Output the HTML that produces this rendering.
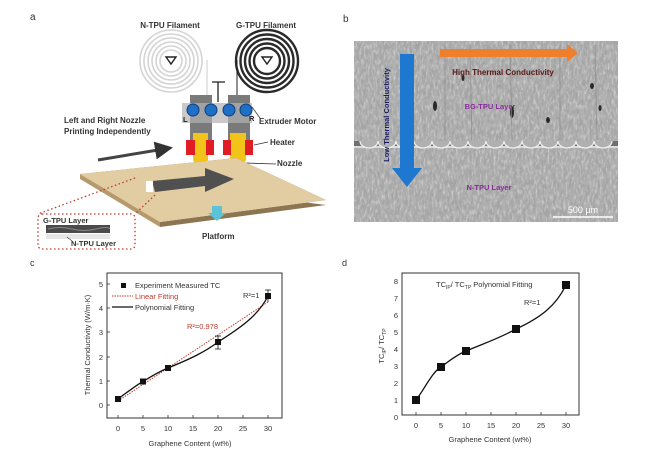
<!DOCTYPE html>
<html><head><meta charset="utf-8"><style>
html,body{margin:0;padding:0;background:#fff;}
svg{display:block;font-family:"Liberation Sans",Arial,sans-serif;}
</style></head><body>
<svg width="648" height="457" viewBox="0 0 648 457" xmlns="http://www.w3.org/2000/svg">
<defs>
<filter id="sem" x="0" y="0" width="100%" height="100%">
<feTurbulence type="fractalNoise" baseFrequency="0.3 0.1" numOctaves="3" seed="4"/>
<feColorMatrix type="matrix" values="0 0 0 0 0.5  0 0 0 0 0.5  0 0 0 0 0.5  1.4 0 0 0 -0.45"/>
</filter>
<filter id="sem2" x="0" y="0" width="100%" height="100%">
<feTurbulence type="fractalNoise" baseFrequency="0.5 0.2" numOctaves="2" seed="9"/>
<feColorMatrix type="matrix" values="0 0 0 0 0.9  0 0 0 0 0.9  0 0 0 0 0.9  1.2 0 0 0 -0.55"/>
</filter>
<marker id="ah" markerWidth="6" markerHeight="6" refX="5" refY="3" orient="auto"><path d="M0,0L6,3L0,6z" fill="#333"/></marker>
</defs>
<!-- Panel a -->
<text x="30" y="20" font-size="10" fill="#333">a</text>
<text x="170" y="28" font-size="8" font-weight="bold" text-anchor="middle" fill="#333">N-TPU Filament</text>
<text x="266" y="28" font-size="8" font-weight="bold" text-anchor="middle" fill="#333">G-TPU Filament</text>
<g fill="none" stroke="#d4d4d4" stroke-width="1.6">
<circle cx="171" cy="61" r="31"/><circle cx="171" cy="61" r="27"/><circle cx="171" cy="61" r="23"/><circle cx="171" cy="61" r="19"/><circle cx="171" cy="61" r="15"/><circle cx="171" cy="61" r="11"/>
</g>
<g fill="none" stroke="#2a2a2a" stroke-width="2.4">
<circle cx="267" cy="61" r="31"/><circle cx="267" cy="61" r="26.5"/><circle cx="267" cy="61" r="22"/><circle cx="267" cy="61" r="17.5"/><circle cx="267" cy="61" r="13"/>
</g>
<path d="M166,57 L176,57 L171,64z" fill="none" stroke="#222" stroke-width="1.4"/>
<path d="M262,57 L272,57 L267,64z" fill="none" stroke="#222" stroke-width="1.4"/>
<line x1="237" y1="60" x2="237" y2="170" stroke="#222" stroke-width="1"/>
<line x1="207" y1="60" x2="207" y2="165" stroke="#ccc" stroke-width="1"/>
<path d="M212,82 L225,82 M218,82 L218,102" stroke="#222" stroke-width="1.3"/>
<rect x="182" y="103" width="70" height="20" fill="#c9c9c9"/>
<rect x="190" y="95" width="22" height="45" fill="#7a7a7a"/>
<rect x="228" y="95" width="22" height="45" fill="#7a7a7a"/>
<rect x="182" y="103" width="70" height="20" fill="#c9c9c9" opacity="0.5"/>
<g fill="#1f6fc4" stroke="#0d3f80"><circle cx="193" cy="110" r="6"/><circle cx="211" cy="110" r="6"/><circle cx="229" cy="110" r="6"/><circle cx="246" cy="110" r="6"/></g>
<path d="M193,133 L208,133 L208,160 L202,170 L198,170 L193,160z" fill="#f2c318"/>
<path d="M230,133 L246,133 L246,160 L240,170 L236,170 L230,160z" fill="#f2c318"/>
<rect x="186" y="140" width="9" height="15" fill="#e01c24"/><rect x="206" y="140" width="8" height="15" fill="#e01c24"/>
<rect x="223" y="140" width="8" height="15" fill="#e01c24"/><rect x="245" y="140" width="8" height="15" fill="#e01c24"/>
<text x="183" y="122" font-size="7.5" font-weight="bold" fill="#222">L</text>
<text x="249" y="121" font-size="7.5" font-weight="bold" fill="#222">R</text>
<path d="M252,107 L260,118 M254,145 L268,142 M245,163 L276,164" stroke="#333" stroke-width="0.8"/>
<text x="259" y="124" font-size="8" font-weight="bold" fill="#333">Extruder Motor</text>
<text x="270" y="145" font-size="8" font-weight="bold" fill="#333">Heater</text>
<text x="277" y="166" font-size="8" font-weight="bold" fill="#333">Nozzle</text>
<text x="64" y="123" font-size="8" font-weight="bold" fill="#333">Left and Right Nozzle</text>
<text x="64" y="134" font-size="8" font-weight="bold" fill="#333">Printing Independently</text>
<path d="M98,160 L170,148" stroke="#444" stroke-width="3" marker-end="url(#ah)"/>
<!-- platform -->
<path d="M80,174 L236,158 L326,200 L160,222 L160,227 L326,205z" fill="#8c7550"/>
<path d="M80,174 L236,158 L326,200 L160,222z" fill="#e2cda2"/>
<path d="M80,174 L160,222 L160,227 L80,179z" fill="#b59a6c"/>
<path d="M152,181 L205,176 L205,168 L234,179 L205,192 L205,186 L155,192z" fill="#505050"/>
<rect x="146" y="181" width="7" height="11" fill="#fff"/>
<path d="M212,206 L222,206 L222,213 L226,213 L217,221 L208,213 L212,213z" fill="#5bc3d8"/>
<text x="202" y="239" font-size="8" font-weight="bold" fill="#333">Platform</text>
<g fill="none" stroke="#c0392b" stroke-width="1.3" stroke-dasharray="1.5 2.5">
<rect x="38" y="214" width="97" height="35" rx="4"/>
<path d="M135,178 L38,214 M155,195 L135,214"/>
</g>
<text x="43" y="223" font-size="7.5" font-weight="bold" fill="#333">G-TPU Layer</text>
<rect x="46" y="225" width="64" height="8" fill="#4a4a4a"/>
<path d="M48,229 Q60,226 72,229 T96,229 T110,229" stroke="#888" fill="none" stroke-width="1"/>
<rect x="46" y="234" width="64" height="5" fill="#e6e6e6"/>
<path d="M67,237 L72,241" stroke="#444" stroke-width="0.7"/>
<text x="71" y="246" font-size="7.5" font-weight="bold" fill="#333">N-TPU Layer</text>
<!-- Panel b -->
<text x="343" y="22" font-size="10" fill="#333">b</text>
<rect x="354" y="41" width="264" height="181" fill="#a3a3a3"/>
<rect x="354" y="41" width="264" height="181" filter="url(#sem)"/>
<rect x="354" y="41" width="264" height="181" filter="url(#sem2)"/>
<rect x="354" y="141" width="264" height="7" fill="#6f6f6f"/>
<rect x="354" y="146" width="264" height="2" fill="#dcdcdc"/>
<g fill="#b0b0b0" stroke="#eeeeee" stroke-width="1.3">
<path d="M360,141 a9,7 0 0 0 18,0 a9,7 0 0 0 18,0 a9,7 0 0 0 18,0 a9,7 0 0 0 18,0 a9,7 0 0 0 18,0 a9,7 0 0 0 18,0 a9,7 0 0 0 18,0 a9,7 0 0 0 18,0 a9,7 0 0 0 18,0 a9,7 0 0 0 18,0 a9,7 0 0 0 18,0 a9,7 0 0 0 18,0 a9,7 0 0 0 18,0 a9,7 0 0 0 18,0"/>
</g>
<g fill="#2a2a2a">
<ellipse cx="435" cy="106" rx="2" ry="5"/><ellipse cx="512" cy="112" rx="2" ry="6"/><ellipse cx="592" cy="86" rx="2" ry="3"/><ellipse cx="600" cy="108" rx="1.5" ry="3"/><ellipse cx="463" cy="78" rx="1.5" ry="3"/><ellipse cx="548" cy="120" rx="2" ry="3"/>
</g>
<g stroke="#8a8a8a" stroke-width="1" opacity="0.7">
<line x1="445" y1="45" x2="445" y2="140"/><line x1="470" y1="45" x2="472" y2="140"/><line x1="510" y1="45" x2="512" y2="140"/><line x1="560" y1="45" x2="560" y2="140"/><line x1="595" y1="45" x2="597" y2="140"/>
</g>
<path d="M400,54 L414,54 L414,168 L422,168 L407,187 L392,168 L400,168z" fill="#1f78d0"/>
<path d="M440,49 L567,49 L567,44 L578,53 L567,62 L567,57 L440,57z" fill="#f07f2c"/>
<text x="503" y="75" font-size="8" font-weight="bold" text-anchor="middle" fill="#5a1a1a">High Thermal Conductivity</text>
<text x="490" y="109" font-size="7.5" font-weight="bold" text-anchor="middle" fill="#8a2a9a">BG-TPU Layer</text>
<text x="489" y="190" font-size="7.5" font-weight="bold" text-anchor="middle" fill="#8a2a9a">N-TPU Layer</text>
<text transform="translate(389,115) rotate(-90)" font-size="7.5" font-weight="bold" text-anchor="middle" fill="#1a1a60">Low Thermal Conductivity</text>
<text x="583" y="213" font-size="9" text-anchor="middle" fill="#fff">500 µm</text>
<line x1="553" y1="217" x2="613" y2="217" stroke="#fff" stroke-width="1.5"/>
<!-- Panel c -->
<text x="30" y="266" font-size="9" fill="#333">c</text>
<rect x="107" y="273" width="175" height="145" fill="none" stroke="#333" stroke-width="1"/>
<g stroke="#333" stroke-width="0.8">
<line x1="118" y1="418" x2="118" y2="415"/><line x1="143" y1="418" x2="143" y2="415"/><line x1="168" y1="418" x2="168" y2="415"/><line x1="193" y1="418" x2="193" y2="415"/><line x1="218" y1="418" x2="218" y2="415"/><line x1="243" y1="418" x2="243" y2="415"/><line x1="268" y1="418" x2="268" y2="415"/>
<line x1="107" y1="405" x2="110" y2="405"/><line x1="107" y1="381" x2="110" y2="381"/><line x1="107" y1="357" x2="110" y2="357"/><line x1="107" y1="332" x2="110" y2="332"/><line x1="107" y1="308" x2="110" y2="308"/><line x1="107" y1="284" x2="110" y2="284"/>
</g>
<g font-size="7.5" fill="#333" text-anchor="middle">
<text x="118" y="431">0</text><text x="143" y="431">5</text><text x="168" y="431">10</text><text x="193" y="431">15</text><text x="218" y="431">20</text><text x="243" y="431">25</text><text x="268" y="431">30</text>
<text x="101" y="408">0</text><text x="101" y="384">1</text><text x="101" y="360">2</text><text x="101" y="335">3</text><text x="101" y="311">4</text><text x="101" y="287">5</text>
</g>
<text x="190" y="446" font-size="7.5" text-anchor="middle" fill="#333">Graphene Content (wt%)</text>
<text transform="translate(90,345) rotate(-90)" font-size="7.5" text-anchor="middle" fill="#333">Thermal Conductivity (W/m·K)</text>
<path d="M118,401 L268,302" stroke="#c0392b" stroke-width="1" stroke-dasharray="1.5 1.2" fill="none"/>
<path d="M118,399 C130,390 140,383 143,381.5 C152,376 160,371 168,368 C190,359 205,352 218,342 C240,328 258,316 268,296" stroke="#111" stroke-width="1.3" fill="none"/>
<g fill="#111"><rect x="115" y="396" width="6" height="6"/><rect x="140" y="378.5" width="6" height="6"/><rect x="165" y="365" width="6" height="6"/><rect x="215" y="339" width="6" height="6"/><rect x="265" y="293" width="6" height="6"/></g>
<path d="M218,336 L218,349 M215,336 L221,336 M215,349 L221,349 M268,290 L268,302 M265,290 L271,290" stroke="#111" stroke-width="0.8"/>
<rect x="121" y="283" width="5" height="5" fill="#111"/>
<text x="135" y="288" font-size="7.5" fill="#333">Experiment Measured TC</text>
<line x1="112" y1="296" x2="133" y2="296" stroke="#c0392b" stroke-dasharray="1.5 1" stroke-width="1"/>
<text x="135" y="299" font-size="7.5" fill="#c0392b">Linear Fitting</text>
<line x1="112" y1="307" x2="133" y2="307" stroke="#111" stroke-width="1.3"/>
<text x="135" y="310" font-size="7.5" fill="#333">Polynomial Fitting</text>
<text x="243" y="298" font-size="7.5" fill="#333">R²=1</text>
<text x="187" y="329" font-size="7.5" fill="#c0392b">R²=0.978</text>
<!-- Panel d -->
<text x="342" y="266" font-size="9" fill="#333">d</text>
<rect x="402" y="273" width="177" height="142" fill="none" stroke="#333" stroke-width="1"/>
<g stroke="#333" stroke-width="0.8">
<line x1="416" y1="415" x2="416" y2="412"/><line x1="441" y1="415" x2="441" y2="412"/><line x1="466" y1="415" x2="466" y2="412"/><line x1="491" y1="415" x2="491" y2="412"/><line x1="516" y1="415" x2="516" y2="412"/><line x1="541" y1="415" x2="541" y2="412"/><line x1="566" y1="415" x2="566" y2="412"/>
</g>
<g font-size="7.5" fill="#333" text-anchor="middle">
<text x="416" y="428">0</text><text x="441" y="428">5</text><text x="466" y="428">10</text><text x="491" y="428">15</text><text x="516" y="428">20</text><text x="541" y="428">25</text><text x="566" y="428">30</text>
<text x="396" y="420">0</text><text x="396" y="403">1</text><text x="396" y="386">2</text><text x="396" y="369">3</text><text x="396" y="352">4</text><text x="396" y="335">5</text><text x="396" y="318">6</text><text x="396" y="301">7</text><text x="396" y="284">8</text>
</g>
<text x="490" y="442" font-size="7.5" text-anchor="middle" fill="#333">Graphene Content (wt%)</text>
<text transform="translate(384,346) rotate(-90)" font-size="7.5" text-anchor="middle" fill="#333">TC<tspan font-size="5" dy="2">IP</tspan><tspan dy="-2">/ TC</tspan><tspan font-size="5" dy="2">TP</tspan></text>
<path d="M416,400 C424,390 432,372 441,367 C448,362 456,355 466,351 C485,343 500,338 516,329 C540,318 556,306 566,285" stroke="#111" stroke-width="1.3" fill="none"/>
<g fill="#111"><rect x="412" y="396" width="8" height="8"/><rect x="437" y="363" width="8" height="8"/><rect x="462" y="347" width="8" height="8"/><rect x="512" y="325" width="8" height="8"/><rect x="562" y="281" width="8" height="8"/></g>
<text x="436" y="287" font-size="7.5" fill="#333">TC<tspan font-size="5" dy="2">IP</tspan><tspan dy="-2">/ TC</tspan><tspan font-size="5" dy="2">TP</tspan><tspan dy="-2"> Polynomial Fitting</tspan></text>
<text x="524" y="305" font-size="7.5" fill="#333">R²=1</text>
</svg>
</body></html>
